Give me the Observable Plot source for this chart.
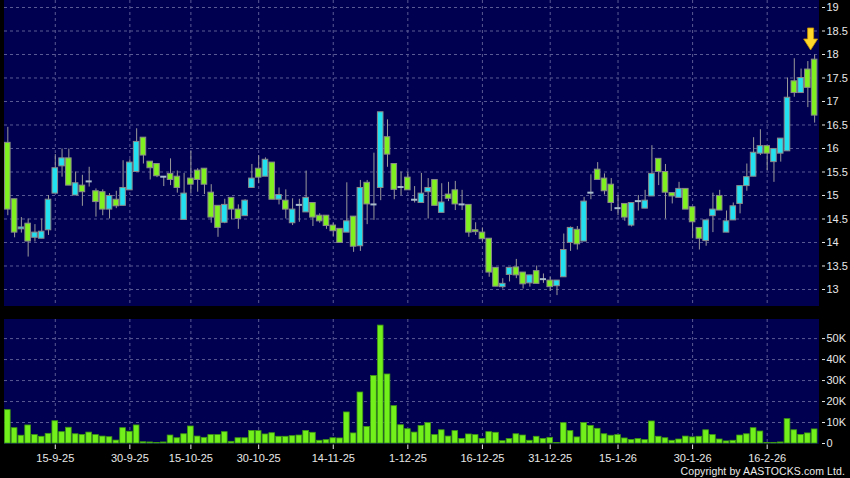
<!DOCTYPE html>
<html><head><meta charset="utf-8">
<script src="https://cdn.jsdelivr.net/npm/d3@7"></script>
<script src="https://cdn.jsdelivr.net/npm/@observablehq/plot@0.6"></script>
<style>
html,body{margin:0;padding:0;background:#000;}
#wrap{position:relative;width:850px;height:478px;background:#000;overflow:hidden;}
#main{position:absolute;left:0;top:0;}
#vol{position:absolute;left:0;top:319px;}
#copy{position:absolute;right:5px;top:465px;font:10.5px 'Liberation Sans',Arial,sans-serif;color:#ececec;letter-spacing:0.1px;}
svg g[aria-label="y-axis"] line, svg g[aria-label="y-axis tick"] path{stroke-dasharray:0 3 3 20;}
svg g[aria-label="x-axis"] line, svg g[aria-label="x-axis tick"] path{stroke-dasharray:0 1.5 4.5 20;}
</style>
</head><body>
<div id="wrap"><div id="main"></div><div id="vol"></div><div id="copy">Copyright by AASTOCKS.com Ltd.</div></div>
<script>
// ---- data ----
const open = [16.12,14.92,14.28,14.40,14.10,14.08,14.26,15.04,15.62,15.79,
15.00,15.21,15.30,15.09,15.07,14.70,14.91,14.78,15.11,15.50,
16.23,15.72,15.67,15.40,15.46,15.40,14.48,15.36,15.53,15.57,
15.06,14.78,14.42,14.95,14.70,14.56,15.16,15.57,15.40,15.70,
14.91,14.89,14.41,14.80,14.64,14.84,14.57,14.57,14.36,14.29,
14.21,14.55,13.92,15.27,14.81,15.16,16.24,15.67,15.18,15.38,
14.91,14.84,15.07,15.33,14.63,15.02,15.11,14.81,14.80,14.26,
14.21,14.08,13.46,13.05,13.31,13.47,13.36,13.13,13.39,13.22,
13.19,13.07,13.26,13.99,14.27,14.02,15.06,15.55,15.36,15.23,
14.73,14.82,14.36,14.88,14.72,14.98,15.78,15.50,15.05,14.95,
15.14,14.75,14.31,14.03,14.56,14.99,14.21,14.47,14.82,15.20,
15.40,15.89,16.05,15.71,15.89,15.94,17.43,17.18,17.68,17.89];
const close = [14.70,14.21,14.32,14.02,14.21,14.23,14.91,15.58,15.79,15.21,
15.26,15.07,15.30,14.86,14.70,14.99,14.77,15.16,15.70,16.14,
15.85,15.58,15.41,15.40,15.33,15.16,15.04,15.23,15.33,15.23,
14.53,14.31,14.80,14.70,14.50,14.89,15.36,15.38,15.76,14.91,
15.01,14.70,14.70,14.80,14.95,14.53,14.45,14.35,14.24,13.99,
14.45,13.91,15.16,14.81,14.81,16.77,15.87,15.12,15.18,15.11,
14.91,15.04,15.16,14.78,14.85,14.93,14.81,14.81,14.21,14.22,
14.07,13.36,13.06,13.12,13.46,13.30,13.11,13.30,13.12,13.22,
13.05,13.19,13.84,14.31,13.96,14.87,15.06,15.33,15.09,14.84,
14.73,14.53,14.84,14.88,14.89,15.46,15.50,15.06,14.98,15.14,
14.70,14.43,14.08,14.47,14.70,14.68,14.45,14.77,15.20,15.39,
15.91,16.05,15.89,15.99,16.21,17.08,17.18,17.50,17.29,16.70];
const high = [16.45,14.92,14.53,14.50,14.38,14.50,15.00,15.87,15.99,15.99,
15.50,15.43,15.60,15.14,15.12,15.04,15.09,15.74,15.76,16.42,
16.23,15.72,15.67,15.40,15.78,15.52,15.47,15.94,15.57,15.57,
15.23,14.78,14.92,14.95,14.80,14.91,15.66,15.85,15.80,15.70,
15.16,15.12,14.93,14.92,15.52,14.84,14.61,14.57,14.41,14.29,
15.27,14.55,15.32,15.32,15.90,16.77,16.61,15.67,15.50,15.50,
15.19,15.47,15.36,15.33,15.25,15.28,15.30,15.11,14.80,14.42,
14.31,14.08,13.46,13.23,13.46,13.64,13.36,13.30,13.50,13.33,
13.26,13.19,14.18,14.33,14.34,14.96,15.44,15.70,15.46,15.36,
15.00,14.82,14.84,15.00,15.11,16.06,15.78,15.66,15.05,15.28,
15.14,14.75,14.31,14.47,15.05,15.11,14.67,14.84,15.20,15.67,
16.23,16.40,16.05,15.99,16.21,17.50,17.91,17.69,17.85,17.99];
const low = [14.57,14.10,14.20,13.69,14.01,14.08,14.15,15.04,15.39,15.21,
15.00,14.77,15.18,14.54,14.57,14.50,14.72,14.78,15.11,15.50,
15.67,15.33,15.38,15.19,15.21,15.05,14.48,15.05,15.07,15.02,
14.41,14.11,14.40,14.48,14.28,14.56,15.16,15.25,15.40,14.91,
14.80,14.50,14.36,14.43,14.64,14.34,14.41,14.28,14.13,13.99,
14.21,13.79,13.81,14.38,14.47,14.89,15.60,14.91,15.00,15.11,
14.84,14.84,14.50,14.78,14.63,14.87,14.68,14.68,14.11,14.15,
14.01,13.26,13.06,13.01,13.16,13.23,13.01,13.05,13.12,13.13,
12.96,12.87,13.26,13.81,13.84,14.02,14.91,15.33,15.01,14.66,
14.57,14.45,14.33,14.67,14.72,14.98,15.21,14.50,14.82,14.95,
14.70,14.08,13.84,13.92,14.21,14.68,14.21,14.47,14.61,15.09,
15.40,15.85,15.53,15.28,15.71,15.94,17.09,17.18,16.87,16.54];
// volume in thousands of shares
const volumeK = [15.9,7.3,3.7,8.6,4.0,3.2,4.6,10.6,5.4,7.5,
4.4,4.1,5.2,4.0,3.3,3.0,1.4,7.3,5.6,8.6,
0.6,0.5,0.2,0.5,3.8,2.5,4.4,8.1,3.3,2.7,
4.0,4.0,5.4,0.8,2.5,2.5,6.0,5.9,4.3,4.9,
3.2,3.2,3.5,3.8,6.0,5.1,1.3,1.6,2.5,2.4,
14.8,4.8,24.3,7.9,32.2,56.2,32.9,17.8,8.7,6.8,
5.2,8.3,9.7,4.0,6.3,3.3,5.9,2.2,4.3,4.0,
2.2,5.4,5.1,1.1,2.1,4.4,3.8,1.3,3.2,2.2,
2.7,0.2,9.7,5.9,2.9,9.8,8.4,7.0,4.4,3.7,
4.0,2.4,1.7,2.1,1.6,10.5,3.2,2.5,1.3,1.9,
3.3,2.9,3.2,6.3,4.0,1.9,1.0,1.3,3.8,4.4,
7.3,5.7,0.2,0.3,0.5,11.6,6.3,4.1,4.8,6.7];
const tickIdx = [7,18,27,37,48,59,70,80,90,101,112];
const tickLabels = ["15-9-25","30-9-25","15-10-25","30-10-25","14-11-25","1-12-25","16-12-25","31-12-25","15-1-26","30-1-26","16-2-26"];
const priceTicks = [13,13.5,14,14.5,15,15.5,16,16.5,17,17.5,18,18.5,19];
const volTicks = [0,10,20,30,40,50];

// ---- build ----
const bars = open.map((o,i)=>({i, open:o, close:close[i], high:high[i], low:low[i], vol:volumeK[i]}));
const bodies = bars.filter(d=>d.open!==d.close);
const dojis = bars.filter(d=>d.open===d.close);
const NAVY="#000050", GRID="#5a5a94", TXT="#e8e8e8";
const GREEN="#80f020", CYAN="#22e0f0";
const xDomain=[-0.49,119.57];
const font="'Liberation Sans', Arial, sans-serif";
const arrow = {draw(ctx){ctx.moveTo(-3,-11);ctx.lineTo(3,-11);ctx.lineTo(3,0);ctx.lineTo(7,0);ctx.lineTo(0,11);ctx.lineTo(-7,0);ctx.lineTo(-3,0);ctx.closePath();}};

const main = Plot.plot({
  width:850, height:306, marginLeft:4, marginRight:32, marginTop:0, marginBottom:0,
  style:{background:"#000", color:TXT, fontFamily:font, fontSize:"11px"},
  x:{domain:xDomain, axis:null},
  y:{domain:[12.638,19.149], axis:"right", ticks:priceTicks, tickFormat:d=>String(d), tickSize:6, tickPadding:2, label:null},
  marks:[
    Plot.frame({fill:NAVY, stroke:NAVY}),
    Plot.ruleY(priceTicks,{y:d=>d, stroke:GRID, strokeDasharray:"3,3"}),
    Plot.ruleX(tickIdx,{x:d=>d, stroke:GRID, strokeDasharray:"3,3"}),
    Plot.ruleX(bars,{x:"i", y1:"low", y2:"high", stroke:"#9a9a9a"}),
    Plot.rect(bodies,{x1:d=>d.i-0.41, x2:d=>d.i+0.41, y1:"open", y2:"close",
      fill:d=>d.close>d.open?CYAN:GREEN, stroke:"#8a8a8a", strokeWidth:1}),
    Plot.ruleY(dojis,{x1:d=>d.i-0.45, x2:d=>d.i+0.45, y:"open", stroke:"#a8bccc", strokeWidth:2}),
    Plot.dot(bars.slice(-1),{x:"i", y:"high", symbol:arrow, r:8, dy:-16, dx:-4, fill:"#ffd82a", stroke:"#c89000", strokeWidth:0.8})
  ]
});
document.getElementById("main").append(main);

const vol = Plot.plot({
  width:850, height:159, marginLeft:4, marginRight:32, marginTop:0, marginBottom:35,
  style:{background:"#000", color:TXT, fontFamily:font, fontSize:"11px"},
  x:{domain:xDomain, ticks:tickIdx, tickFormat:d=>tickLabels[tickIdx.indexOf(d)], tickSize:6, tickPadding:5, label:null},
  y:{domain:[0,59.1], axis:"right", ticks:volTicks, tickFormat:d=>d===0?"0":d+"K", tickSize:6, tickPadding:2, label:null},
  marks:[
    Plot.frame({fill:NAVY, stroke:NAVY}),
    Plot.ruleY(volTicks.filter(d=>d>0),{y:d=>d, stroke:GRID, strokeDasharray:"3,3"}),
    Plot.ruleX(tickIdx,{x:d=>d, stroke:GRID, strokeDasharray:"3,3"}),
    Plot.rectY(bars,{x1:d=>d.i-0.42, x2:d=>d.i+0.42, y:"vol", fill:"#72f01c", stroke:"#3f9a12", strokeWidth:0.8})
  ]
});
document.getElementById("vol").append(vol);
</script>
</body></html>
